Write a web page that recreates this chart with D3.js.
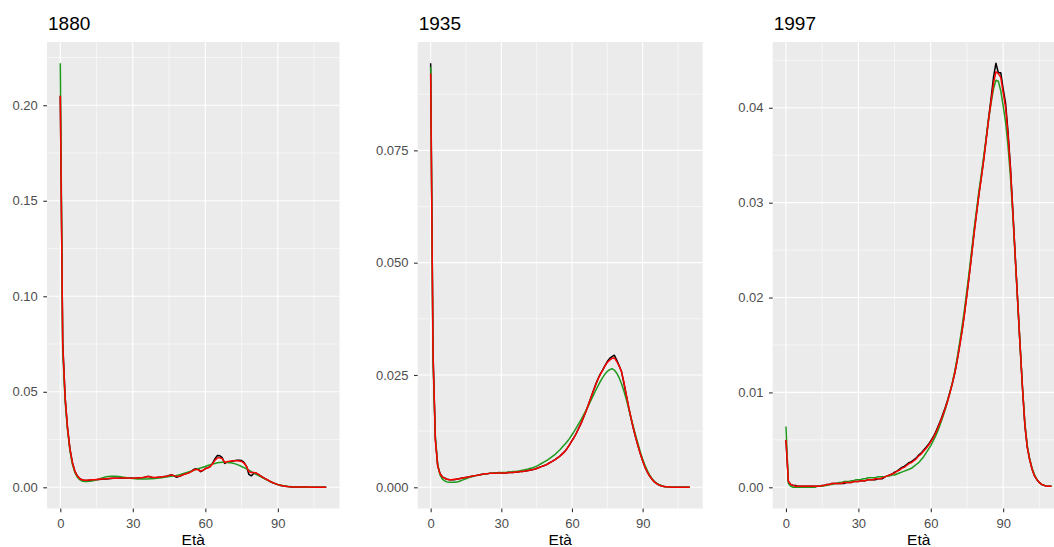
<!DOCTYPE html>
<html>
<head>
<meta charset="utf-8">
<script src="https://cdn.jsdelivr.net/npm/d3@7"></script>
<style>
  html, body { margin: 0; padding: 0; background: #ffffff; }
  svg { display: block; font-family: "Liberation Sans", Arial, sans-serif; }
</style>
</head>
<body>
<svg id="chart" width="1054" height="547"></svg>
<script>
// Age-at-death distributions: observed (black), fitted model (green), smoothed (red)
const ages = d3.range(0, 111);

const obs1880 = [0.205,0.076,0.047,0.031,0.020,0.013,0.0085,0.0060,0.0046,0.0039,
  0.0036,0.0036,0.0037,0.0038,0.0039,0.0040,0.0041,0.0042,0.0043,0.0044,
  0.0045,0.0046,0.0047,0.0048,0.0048,0.0049,0.0049,0.0049,0.0049,0.0049,
  0.0048,0.0048,0.0049,0.0050,0.0050,0.0052,0.0057,0.0056,0.0051,0.0050,
  0.0051,0.0053,0.0054,0.0056,0.0058,0.0062,0.0066,0.0060,0.0053,0.0056,
  0.0062,0.0068,0.0072,0.0075,0.0082,0.0092,0.0097,0.0095,0.0082,0.0088,
  0.0098,0.0102,0.0108,0.0125,0.0150,0.0166,0.0165,0.0155,0.0125,0.0132,
  0.0133,0.0136,0.0139,0.0141,0.0142,0.0140,0.0130,0.0110,0.0068,0.0060,
  0.0072,0.0074,0.0066,0.0058,0.0050,0.0043,0.0036,0.0029,0.0023,0.0018,
  0.0014,0.0010,0.0008,0.0006,0.0004,0.0003,0.0002,0.0002,0.0001,0.0001,
  0.0001,0.0001,0.0001,0.0000,0.0000,0.0000,0.0000,0.0000,0.0000,0.0000,0.0000];
const fit1880 = [0.222,0.072,0.045,0.030,0.019,0.012,0.0078,0.0054,0.0040,0.0033,
  0.0030,0.0030,0.0031,0.0033,0.0036,0.0040,0.0044,0.0048,0.0052,0.0055,
  0.0057,0.0058,0.0058,0.0058,0.0057,0.0055,0.0053,0.0051,0.0049,0.0047,
  0.0046,0.0045,0.0044,0.0044,0.0044,0.0044,0.0044,0.0045,0.0045,0.0046,
  0.0047,0.0048,0.0050,0.0052,0.0054,0.0056,0.0058,0.0060,0.0062,0.0065,
  0.0068,0.0072,0.0076,0.0080,0.0084,0.0088,0.0093,0.0097,0.0101,0.0105,
  0.0109,0.0114,0.0118,0.0122,0.0125,0.0128,0.0130,0.0131,0.0131,0.0130,
  0.0129,0.0127,0.0124,0.0120,0.0115,0.0109,0.0103,0.0097,0.0090,0.0082,
  0.0075,0.0068,0.0061,0.0055,0.0048,0.0042,0.0035,0.0029,0.0024,0.0019,
  0.0015,0.0012,0.0009,0.0007,0.0005,0.0004,0.0003,0.0002,0.0001,0.0001,
  0.0001,0.0000,0.0000,0.0000,0.0000,0.0000,0.0000,0.0000,0.0000,0.0000,0.0000];
const smooth1880 = [0.205,0.075,0.047,0.031,0.020,0.013,0.0085,0.0060,0.0046,0.0039,
  0.0037,0.0037,0.0038,0.0039,0.0040,0.0041,0.0042,0.0043,0.0044,0.0045,
  0.0046,0.0047,0.0047,0.0048,0.0048,0.0049,0.0049,0.0049,0.0049,0.0048,
  0.0048,0.0049,0.0049,0.0050,0.0051,0.0053,0.0056,0.0055,0.0052,0.0051,
  0.0052,0.0053,0.0055,0.0056,0.0058,0.0061,0.0064,0.0061,0.0057,0.0058,
  0.0062,0.0067,0.0071,0.0075,0.0081,0.0089,0.0094,0.0092,0.0085,0.0089,
  0.0097,0.0102,0.0109,0.0123,0.0142,0.0154,0.0155,0.0150,0.0130,0.0134,
  0.0136,0.0138,0.0139,0.0139,0.0138,0.0135,0.0126,0.0110,0.0082,0.0077,
  0.0078,0.0075,0.0068,0.0059,0.0051,0.0044,0.0037,0.0030,0.0024,0.0019,
  0.0014,0.0011,0.0008,0.0006,0.0004,0.0003,0.0002,0.0002,0.0001,0.0001,
  0.0001,0.0001,0.0001,0.0001,0.0000,0.0000,0.0000,0.0000,0.0000,0.0000,0.0000];

const obs1935 = [0.0944,0.030,0.0108,0.0048,0.0030,0.0023,0.0020,0.0018,0.0017,0.0017,
  0.0017,0.0018,0.0019,0.0020,0.0021,0.0022,0.0023,0.0024,0.0025,0.0026,
  0.0027,0.0028,0.0029,0.0030,0.0030,0.0031,0.0031,0.0032,0.0032,0.0033,
  0.0032,0.0032,0.0032,0.0033,0.0033,0.0033,0.0034,0.0034,0.0035,0.0035,
  0.0036,0.0037,0.0038,0.0039,0.0040,0.0042,0.0044,0.0046,0.0048,0.0050,
  0.0053,0.0056,0.0059,0.0062,0.0066,0.0070,0.0075,0.0080,0.0087,0.0095,
  0.0104,0.0112,0.0122,0.0133,0.0144,0.0157,0.0170,0.0184,0.0199,0.0214,
  0.0228,0.0241,0.0252,0.0261,0.0271,0.0280,0.0287,0.0291,0.0294,0.0283,
  0.0271,0.0258,0.0233,0.0206,0.0179,0.0155,0.0132,0.0112,0.0093,0.0075,
  0.0059,0.0045,0.0034,0.0025,0.0018,0.0012,0.0008,0.0005,0.0003,0.0002,
  0.0001,0.0001,0.0000,0.0000,0.0000,0.0000,0.0000,0.0000,0.0000,0.0000,0.0000];
const fit1935 = [0.0936,0.028,0.0112,0.0050,0.0027,0.0018,0.0014,0.0012,0.0011,0.0011,
  0.0011,0.0012,0.0013,0.0015,0.0017,0.0019,0.0021,0.0023,0.0024,0.0026,
  0.0027,0.0028,0.0029,0.0030,0.0030,0.0031,0.0031,0.0032,0.0032,0.0032,
  0.0033,0.0033,0.0033,0.0034,0.0034,0.0035,0.0035,0.0036,0.0037,0.0038,
  0.0039,0.0040,0.0042,0.0043,0.0045,0.0047,0.0050,0.0053,0.0056,0.0059,
  0.0062,0.0066,0.0070,0.0074,0.0079,0.0084,0.0090,0.0096,0.0102,0.0109,
  0.0117,0.0125,0.0134,0.0143,0.0152,0.0162,0.0172,0.0182,0.0193,0.0204,
  0.0215,0.0225,0.0235,0.0244,0.0252,0.0258,0.0262,0.0264,0.0261,0.0254,
  0.0244,0.0231,0.0215,0.0197,0.0177,0.0156,0.0136,0.0116,0.0097,0.0079,
  0.0063,0.0049,0.0037,0.0027,0.0019,0.0013,0.0009,0.0006,0.0004,0.0002,
  0.0001,0.0001,0.0000,0.0000,0.0000,0.0000,0.0000,0.0000,0.0000,0.0000,0.0000];
const smooth1935 = [0.0921,0.030,0.0105,0.0047,0.0030,0.0023,0.0020,0.0018,0.0017,0.0017,
  0.0018,0.0018,0.0019,0.0020,0.0021,0.0022,0.0023,0.0024,0.0025,0.0026,
  0.0027,0.0028,0.0029,0.0030,0.0030,0.0031,0.0031,0.0031,0.0032,0.0032,
  0.0032,0.0032,0.0032,0.0033,0.0033,0.0033,0.0034,0.0034,0.0035,0.0035,
  0.0036,0.0037,0.0038,0.0039,0.0040,0.0042,0.0044,0.0046,0.0048,0.0050,
  0.0053,0.0056,0.0059,0.0062,0.0066,0.0070,0.0075,0.0080,0.0087,0.0095,
  0.0104,0.0112,0.0122,0.0133,0.0144,0.0157,0.0170,0.0184,0.0199,0.0213,
  0.0227,0.0240,0.0251,0.0260,0.0270,0.0278,0.0283,0.0287,0.0288,0.0280,
  0.0270,0.0258,0.0235,0.0208,0.0181,0.0156,0.0133,0.0112,0.0093,0.0075,
  0.0059,0.0045,0.0034,0.0025,0.0018,0.0012,0.0008,0.0005,0.0003,0.0002,
  0.0001,0.0001,0.0000,0.0000,0.0000,0.0000,0.0000,0.0000,0.0000,0.0000,0.0000];

const obs1997 = [0.0050,0.0006,0.0003,0.0002,0.0002,0.0001,0.0001,0.0001,0.0001,0.0001,
  0.0001,0.0001,0.0001,0.0001,0.0001,0.0002,0.0002,0.0003,0.0003,0.0004,
  0.0004,0.0004,0.0004,0.0004,0.0004,0.0005,0.0005,0.0005,0.0006,0.0006,
  0.0006,0.0007,0.0007,0.0007,0.0008,0.0008,0.0008,0.0008,0.0009,0.0009,
  0.0009,0.0011,0.0012,0.0013,0.0014,0.0016,0.0017,0.0019,0.0021,0.0022,
  0.0024,0.0026,0.0027,0.0029,0.0031,0.0034,0.0036,0.0039,0.0042,0.0045,
  0.0049,0.0053,0.0058,0.0064,0.0070,0.0077,0.0084,0.0092,0.0101,0.0110,
  0.0121,0.0135,0.0150,0.0166,0.0184,0.0204,0.0225,0.0247,0.0270,0.0290,
  0.0310,0.0328,0.0347,0.0368,0.0390,0.0410,0.0432,0.0447,0.0437,0.0437,
  0.0420,0.0405,0.0375,0.0338,0.0292,0.0244,0.0197,0.0150,0.0105,0.0065,
  0.0042,0.0029,0.0019,0.0012,0.0008,0.0005,0.0003,0.0002,0.0001,0.0001,0.0001];
const fit1997 = [0.0064,0.0004,0.0001,0.0000,0.0000,0.0000,0.0000,0.0000,0.0000,0.0000,
  0.0000,0.0000,0.0000,0.0001,0.0001,0.0001,0.0002,0.0002,0.0003,0.0003,
  0.0004,0.0004,0.0005,0.0005,0.0006,0.0006,0.0006,0.0007,0.0007,0.0008,
  0.0008,0.0008,0.0009,0.0009,0.0010,0.0010,0.0010,0.0010,0.0011,0.0011,
  0.0011,0.0011,0.0012,0.0012,0.0013,0.0013,0.0014,0.0015,0.0016,0.0017,
  0.0018,0.0019,0.0020,0.0022,0.0024,0.0026,0.0029,0.0032,0.0036,0.0040,
  0.0044,0.0049,0.0054,0.0060,0.0067,0.0074,0.0082,0.0091,0.0100,0.0111,
  0.0123,0.0137,0.0153,0.0170,0.0188,0.0208,0.0229,0.0251,0.0273,0.0293,
  0.0313,0.0331,0.0350,0.0369,0.0388,0.0405,0.0420,0.0429,0.0428,0.0418,
  0.0402,0.0385,0.0360,0.0328,0.0287,0.0242,0.0196,0.0150,0.0106,0.0068,
  0.0044,0.0030,0.0020,0.0013,0.0008,0.0005,0.0003,0.0002,0.0001,0.0001,0.0001];
const smooth1997 = [0.0050,0.0006,0.0003,0.0002,0.0001,0.0001,0.0001,0.0001,0.0001,0.0001,
  0.0001,0.0001,0.0001,0.0001,0.0001,0.0002,0.0002,0.0003,0.0003,0.0004,
  0.0004,0.0004,0.0004,0.0004,0.0005,0.0005,0.0005,0.0005,0.0006,0.0006,
  0.0006,0.0007,0.0007,0.0007,0.0008,0.0008,0.0008,0.0009,0.0009,0.0009,
  0.0010,0.0011,0.0012,0.0013,0.0014,0.0015,0.0017,0.0018,0.0020,0.0021,
  0.0023,0.0025,0.0026,0.0028,0.0030,0.0033,0.0035,0.0038,0.0041,0.0044,
  0.0048,0.0052,0.0057,0.0063,0.0069,0.0076,0.0083,0.0091,0.0100,0.0110,
  0.0121,0.0134,0.0149,0.0165,0.0183,0.0203,0.0224,0.0246,0.0268,0.0289,
  0.0309,0.0327,0.0346,0.0367,0.0388,0.0407,0.0426,0.0438,0.0436,0.0432,
  0.0416,0.0400,0.0372,0.0336,0.0291,0.0243,0.0197,0.0150,0.0105,0.0066,
  0.0042,0.0029,0.0019,0.0012,0.0008,0.0005,0.0003,0.0002,0.0001,0.0001,0.0001];

const panelTitles = ["1880", "1935", "1997"];
const xTicks = [0, 30, 60, 90];
const xMinor = [15, 45, 75, 105];
const yTicks1880 = [0, 0.05, 0.10, 0.15, 0.20];
const yTicks1935 = [0, 0.025, 0.050, 0.075];
const yTicks1997 = [0, 0.01, 0.02, 0.03, 0.04];
const yLabels1880 = ["0.00", "0.05", "0.10", "0.15", "0.20"];
const yLabels1935 = ["0.000", "0.025", "0.050", "0.075"];
const yLabels1997 = ["0.00", "0.01", "0.02", "0.03", "0.04"];
const seriesColors = ["#000000", "#1f9a1f", "#ff0000"];
const xTitle = "Età";

const panels = [
  { title: panelTitles[0], series: [obs1880, fit1880, smooth1880], ticks: yTicks1880, labels: yLabels1880, left: 47, right: 339.5 },
  { title: panelTitles[1], series: [obs1935, fit1935, smooth1935], ticks: yTicks1935, labels: yLabels1935, left: 417.7, right: 702.7 },
  { title: panelTitles[2], series: [obs1997, fit1997, smooth1997], ticks: yTicks1997, labels: yLabels1997, left: 772.7, right: 1064.7 }
];

const plotTop = 42, plotBottom = 508.5;
const svg = d3.select("#chart");

panels.forEach(p => {
  const g = svg.append("g");
  const ageExt = d3.extent(ages);
  const ageSpan = ageExt[1] - ageExt[0];
  const x = d3.scaleLinear()
    .domain([ageExt[0] - 0.05 * ageSpan, ageExt[1] + 0.05 * ageSpan])
    .range([p.left, p.right]);
  const yMax = d3.max(p.series, s => d3.max(s));
  const y = d3.scaleLinear()
    .domain([-0.05 * yMax, yMax * 1.05])
    .range([plotBottom, plotTop]);

  // panel background
  g.append("rect")
    .attr("x", p.left).attr("y", plotTop)
    .attr("width", p.right - p.left).attr("height", plotBottom - plotTop)
    .attr("fill", "#EBEBEB");

  // minor grid
  const step = p.ticks[1] - p.ticks[0];
  const yMinor = d3.range(step / 2, y.domain()[1], step);
  g.selectAll(".ymin").data(yMinor).enter().append("line")
    .attr("x1", p.left).attr("x2", p.right)
    .attr("y1", d => y(d)).attr("y2", d => y(d))
    .attr("stroke", "#ffffff").attr("stroke-width", 0.55);
  g.selectAll(".xmin").data(xMinor).enter().append("line")
    .attr("x1", d => x(d)).attr("x2", d => x(d))
    .attr("y1", plotTop).attr("y2", plotBottom)
    .attr("stroke", "#ffffff").attr("stroke-width", 0.55);

  // major grid
  g.selectAll(".ymaj").data(p.ticks).enter().append("line")
    .attr("x1", p.left).attr("x2", p.right)
    .attr("y1", d => y(d)).attr("y2", d => y(d))
    .attr("stroke", "#ffffff").attr("stroke-width", 1.1);
  g.selectAll(".xmaj").data(xTicks).enter().append("line")
    .attr("x1", d => x(d)).attr("x2", d => x(d))
    .attr("y1", plotTop).attr("y2", plotBottom)
    .attr("stroke", "#ffffff").attr("stroke-width", 1.1);

  // series
  const line = d3.line()
    .x((d, i) => x(ages[i]))
    .y(d => y(d));
  p.series.forEach((s, k) => {
    g.append("path")
      .datum(s)
      .attr("d", line)
      .attr("fill", "none")
      .attr("stroke", seriesColors[k])
      .attr("stroke-width", 1.5)
      .attr("stroke-linejoin", "round");
  });

  // axes
  const yAxis = d3.axisLeft(y)
    .tickValues(p.ticks)
    .tickFormat((d, i) => p.labels[i])
    .tickSize(3.7).tickPadding(5.5);
  const ya = g.append("g").attr("transform", `translate(${p.left},0)`).call(yAxis);
  const xAxis = d3.axisBottom(x)
    .tickValues(xTicks)
    .tickFormat(d3.format("d"))
    .tickSize(3.7).tickPadding(6.5);
  const xa = g.append("g").attr("transform", `translate(0,${plotBottom})`).call(xAxis);
  [ya, xa].forEach(a => {
    a.select(".domain").remove();
    a.selectAll(".tick line").attr("stroke", "#333333").attr("stroke-width", 1.1);
    a.selectAll(".tick text")
      .attr("fill", "#4D4D4D")
      .style("font-size", "13px")
      .style("font-family", "'Liberation Sans', Arial, sans-serif");
  });

  // panel title and axis title
  g.append("text")
    .attr("x", p.left + 1).attr("y", 30)
    .attr("fill", "#000000")
    .style("font-size", "19px")
    .text(p.title);
  g.append("text")
    .attr("x", (p.left + p.right) / 2)
    .attr("y", 545)
    .attr("text-anchor", "middle")
    .attr("fill", "#000000")
    .style("font-size", "15.5px")
    .text(xTitle);
});
</script>
</body>
</html>
